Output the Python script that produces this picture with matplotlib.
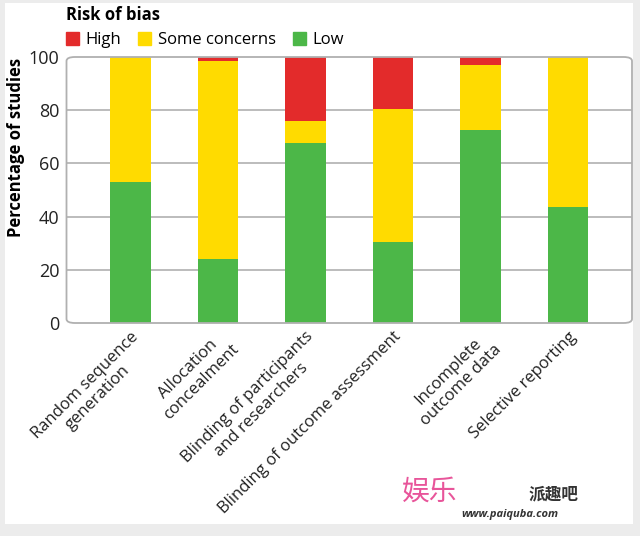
import numpy as np
import matplotlib
matplotlib.use("Agg")
import matplotlib.pyplot as plt
from matplotlib.patches import FancyBboxPatch, Rectangle, Patch

plt.rcParams['font.family'] = ['Open Sans', 'Noto Sans CJK SC', 'DejaVu Sans']

# data (percent of studies)
domains = ["Random sequence\ngeneration", "Allocation\nconcealment",
           "Blinding of participants\nand researchers", "Blinding of outcome assessment",
           "Incomplete\noutcome data", "Selective reporting"]
low = [53.0, 24.2, 67.7, 30.6, 72.4, 43.6]
some = [47.0, 74.2, 8.2, 49.9, 24.5, 56.4]
high = [0.0, 1.6, 24.1, 19.5, 3.1, 0.0]

c_low = "#4cb748"
c_some = "#ffdb00"
c_high = "#e32b2b"

fig = plt.figure(figsize=(6.4, 5.36), dpi=100, facecolor="#ececec")
# white panel behind everything
fig.patches.append(Rectangle((5/640, (536-524)/536), 628/640, 521/536,
                             transform=fig.transFigure, facecolor="white",
                             edgecolor="none", zorder=-10))

ax = fig.add_axes([66.5/640, (536-323)/536, (632-66.5)/640, (323-57)/536])
ax.set_facecolor("none")
x = np.arange(len(domains))
w = 0.46
ax.bar(x, low, w, color=c_low, zorder=3)
ax.bar(x, some, w, bottom=low, color=c_some, zorder=3)
ax.bar(x, high, w, bottom=np.array(low) + np.array(some), color=c_high, zorder=3)

ax.set_xlim(-0.73, 5.73)
ax.set_ylim(0, 100)
ax.set_yticks([0, 20, 40, 60, 80, 100])
ax.tick_params(axis="y", length=0, labelsize=13, pad=5, labelcolor="#222222")
ax.tick_params(axis="x", length=0, pad=4)
for v in [20, 40, 60, 80]:
    ax.axhline(v, color="#b0b0b0", lw=1.2, zorder=1)
for s in ax.spines.values():
    s.set_visible(False)
ax.add_patch(FancyBboxPatch((0, 0), 1, 1, boxstyle="round,pad=0,rounding_size=0.015",
                            transform=ax.transAxes, facecolor="none",
                            edgecolor="#b0b0b0", lw=1.3, zorder=4, clip_on=False))

ax.set_xticks(x)
ax.set_xticklabels(domains, rotation=45, ha="right", rotation_mode="anchor",
                   multialignment="center", fontsize=12, color="#222222")
ax.set_ylabel("Percentage of studies", fontsize=12, fontweight="bold")
ax.yaxis.set_label_coords(-0.073, 0.66)

handles = [Patch(color=c_high), Patch(color=c_some), Patch(color=c_low)]
leg = fig.legend(handles, ["High", "Some concerns", "Low"], title="Risk of bias",
                 ncol=3, loc="upper left", bbox_to_anchor=(54/640, 1.0 + 6/536),
                 frameon=False, fontsize=12, title_fontsize=12,
                 handlelength=0.8, handleheight=0.8, handletextpad=0.4,
                 columnspacing=1.0, borderpad=0.2, labelspacing=0.15)
leg.get_title().set_fontweight("bold")
leg._legend_box.align = "left"
leg._legend_box.sep = 6

# watermark
fig.text(430/640, (536-492)/536, "娱乐", fontsize=20, color="#e8559a",
         ha="center", va="center", family=["Noto Sans CJK SC"])
fig.text(553/640, (536-494)/536, "派趣吧", fontsize=12, fontweight="bold",
         color="#333333", ha="center", va="center", family=["Noto Sans CJK SC"])
fig.text(510/640, (536-515)/536, "www.paiquba.com", fontsize=8, fontweight="bold",
         style="italic", color="#333333", ha="center", va="center")

fig.savefig("out.png", dpi=100, facecolor=fig.get_facecolor())
